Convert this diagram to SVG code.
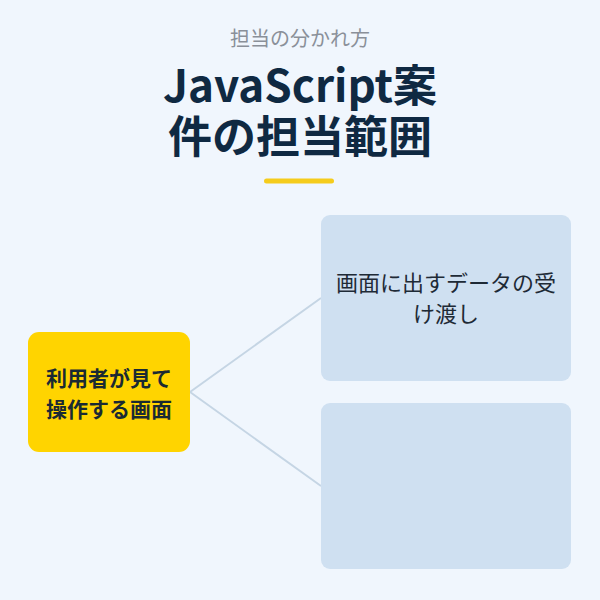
<svg xmlns="http://www.w3.org/2000/svg" width="600" height="600" viewBox="0 0 600 600">
<style>
.t{font-family:"Noto Sans CJK JP","Noto Sans",sans-serif}
.edge{stroke:#c5d5e4;stroke-width:2;fill:none}
.box{fill:#cfe0f1}
</style>
<rect width="600" height="600" fill="#f0f6fd"/>
<text class="t" x="300" y="46" text-anchor="middle" font-size="20" fill="#8a9099">担当の分かれ方</text>
<text class="t" text-anchor="middle" font-size="44" font-weight="bold" fill="#0f2942"><tspan x="300" y="102">JavaScript案</tspan><tspan x="300" y="153">件の担当範囲</tspan></text>
<rect x="264" y="178.500" width="70" height="5" rx="2.500" fill="#f5cc1c"/>
<g id="connectors">
<line class="edge" x1="190" y1="392" x2="321" y2="298"/>
<line class="edge" x1="190" y1="392" x2="321" y2="486"/>
</g>
<g id="node-main">
<rect x="28" y="332" width="162" height="120" rx="11" fill="#ffd400"/>
<text class="t" x="109" y="386" text-anchor="middle" font-size="21" font-weight="bold" fill="#1a2a33">利用者が見て</text>
<text class="t" x="109" y="417" text-anchor="middle" font-size="21" font-weight="bold" fill="#1a2a33">操作する画面</text>
</g>
<g id="node-data">
<rect class="box" x="321" y="215" width="250" height="166" rx="9"/>
<text class="t" x="446" y="291" text-anchor="middle" font-size="22" fill="#1e2a36">画面に出すデータの受</text>
<text class="t" x="446" y="322" text-anchor="middle" font-size="22" fill="#1e2a36">け渡し</text>
</g>
<g id="node-empty">
<rect class="box" x="321" y="403" width="250" height="166" rx="9"/>
</g>
</svg>
